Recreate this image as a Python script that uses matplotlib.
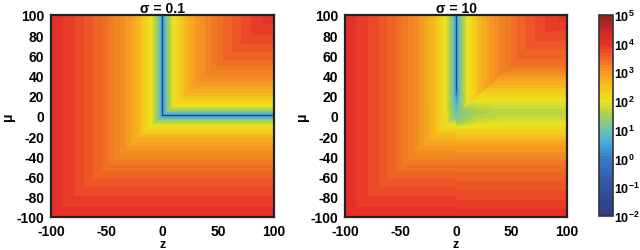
import numpy as np
import matplotlib
matplotlib.use("Agg")
import matplotlib.pyplot as plt
from matplotlib.colors import LinearSegmentedColormap, LogNorm

plt.rcParams["font.family"] = ["Liberation Sans", "DejaVu Sans"]
plt.rcParams["font.weight"] = "bold"
plt.rcParams["axes.unicode_minus"] = False
plt.rcParams["mathtext.fontset"] = "custom"
plt.rcParams["mathtext.rm"] = "Liberation Sans:bold"
plt.rcParams["mathtext.bf"] = "Liberation Sans:bold"

# Axes values (grid of the maps)
z = np.arange(-100, 101, 1.0)
mu = np.arange(-100, 101, 1.0)
axis_ticks = [-100, -80, -60, -40, -20, 0, 20, 40, 60, 80, 100]
z_ticks = [-100, -50, 0, 50, 100]
cbar_exps = [-2, -1, 0, 1, 2, 3, 4, 5]
titles = ["\u03c3 = 0.1", "\u03c3 = 10"]

# log10 value read against |min(z, mu)| (distance from the L-shaped set)
dist_pts = [0, 1, 2, 3, 5, 10, 20, 30, 50, 75, 100]
logv_dist = [-2.0, 0.3, 0.7, 0.95, 1.4, 2.0, 2.6, 2.95, 3.4, 3.75, 4.0]

# sigma = 10: floor along the vertical arm (z = 0) as log10 value
arm_v_mu = [0, 10, 15, 20, 25, 30, 100]
arm_v_floor = [1.1, 0.7, 0.4, 0.1, -1.0, -2.5, -3.0]
# sigma = 10: profile across the horizontal arm (read at z = 80)
arm_h_mu = [-100, -50, -30, -20, -10, -5, 0, 4, 10, 20, 30, 50, 100]
arm_h_logv = [4.0, 3.4, 2.9, 2.5, 2.05, 1.85, 1.7, 1.65, 1.8, 2.25, 2.7, 3.4, 4.0]
# sigma = 10: drop of the horizontal arm towards the origin
arm_h_z = [0, 10, 20, 40]
arm_h_drop = [-0.6, -0.3, -0.1, 0.0]

# colormap (log10 position, colour)
cmap_pos = [-2.0, -1.0, 0.0, 0.5, 1.0, 1.5, 2.0, 2.5, 3.0, 3.5, 4.0, 4.5, 5.0]
cmap_cols = ["#2b3f86", "#3552a3", "#3a7cc4", "#45aadb", "#6fc3b0", "#a6cf55",
             "#ece41f", "#f7c51c", "#f59a22", "#f06a25", "#e8302a", "#c82a2a",
             "#962222"]

# Build the two fields
Z, M = np.meshgrid(z, mu)
m = np.minimum(Z, M)
base = np.interp(np.abs(m), dist_pts, logv_dist)
field_01 = 10 ** base

v_floor0 = np.interp(0, arm_v_mu, arm_v_floor)
upper = np.log10(10 ** np.interp(np.abs(Z), dist_pts, logv_dist)
                 + 10 ** np.interp(np.maximum(M, 0), arm_v_mu, arm_v_floor))
weight = np.clip((15 - np.abs(M)) / 10, 0, 1)
right = (np.interp(M, arm_h_mu, arm_h_logv)
         + weight * np.interp(Z, arm_h_z, arm_h_drop))
left = np.log10(10 ** base + 10 ** v_floor0)
lower = np.where(Z >= 0, right, left)
field_10 = 10 ** np.where(Z < M, upper, lower)

pos = [(p - cmap_pos[0]) / (cmap_pos[-1] - cmap_pos[0]) for p in cmap_pos]
cmap = LinearSegmentedColormap.from_list("cb", list(zip(pos, cmap_cols)), N=64)
norm = LogNorm(vmin=10.0 ** cbar_exps[0], vmax=10.0 ** cbar_exps[-1])

fig = plt.figure(figsize=(6.4, 2.51), dpi=100)
ax1 = fig.add_axes([0.0797, 0.1315, 0.348, 0.805])
ax2 = fig.add_axes([0.539, 0.1315, 0.347, 0.805])
cax = fig.add_axes([0.936, 0.1355, 0.0219, 0.801])

for ax, field, title in zip([ax1, ax2], [field_01, field_10], titles):
    im = ax.imshow(field, origin="lower", extent=[-100.5, 100.5, -100.5, 100.5],
                   cmap=cmap, norm=norm, interpolation="nearest", aspect="auto")
    ax.set_xlim(-100, 100)
    ax.set_ylim(-100, 100)
    ax.set_xticks(z_ticks)
    ax.set_yticks(axis_ticks)
    ax.tick_params(length=0, labelsize=10)
    ax.tick_params(axis="x", pad=5)
    ax.tick_params(axis="y", pad=5)
    ax.set_xlabel("z", fontsize=9, fontweight="bold", labelpad=0)
    ax.set_ylabel("\u03bc", fontsize=10, fontweight="bold", labelpad=1)
    ax.set_title(title, fontsize=10, fontweight="bold", pad=2)
    for s in ax.spines.values():
        s.set_linewidth(1.6)
        s.set_color("#222222")

cb = fig.colorbar(im, cax=cax, ticks=[10.0 ** e for e in cbar_exps])
cb.ax.set_yticklabels([r"$\mathbf{10^{%d}}$" % e for e in cbar_exps])
cb.ax.tick_params(length=0, labelsize=9, pad=1)
cb.ax.minorticks_off()
cb.outline.set_linewidth(1.2)
cb.outline.set_edgecolor("#333333")

fig.savefig("out.png", dpi=100)
